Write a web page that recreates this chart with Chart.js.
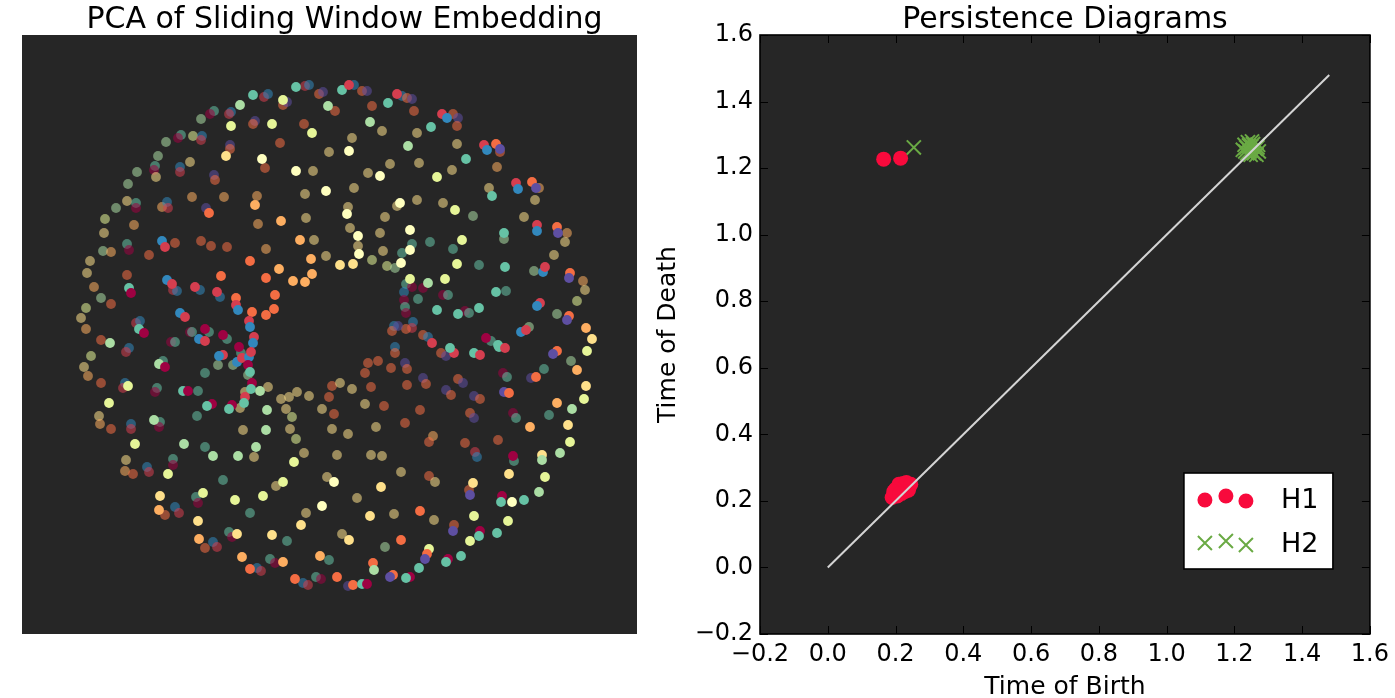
<!DOCTYPE html>
<html><head><meta charset="utf-8">
<script src="https://cdn.jsdelivr.net/npm/chart.js@4.4.1/dist/chart.umd.min.js"></script>
<style>
html,body{margin:0;padding:0;background:#fff;width:1395px;height:698px;overflow:hidden}
canvas{position:absolute;top:0}
#pca{left:0}
#pd{left:640px}
</style></head><body>
<canvas id="pca" width="660" height="698"></canvas>
<canvas id="pd" width="755" height="698"></canvas>
<script>
// ---- PCA of sliding window embedding: [PC1, PC2, time fraction (colormap), depth (PC3, 0 back .. 1 front)]
const pcaPoints = [
[-34,248,.8,1],[-25,249,.1,0],[-21,250,.9,0],[-11,241,.2,0],[-7,243,1,0],[12,245,.8,1],[-2,229,.7,1],[5,224,.2,0],
[-77,240,.8,1],[-66,238,.1,0],[-62,241,.9,0],[-47,235,.6,1],[-47,230,.2,0],[-43,233,1,0],[-90,230,.7,1],
[-99,223,.9,0],[-101,221,.1,0],[-99,209,.6,1],[-116,224,.8,0],[-120,221,0,0],[-129,216,.7,0],[-75,214,1,0],[-77,211,.2,0],
[-58,211,.6,1],[-26,211,.2,0],[-18,202,.6,1],[-137,199,.6,0],[-128,199,.9,0],[-129,195,.1,0],[-149,200,.8,0],[-152,197,0,0],
[-164,193,.7,0],[-100,190,1,0],[-100,186,.2,0],[-104,179,.4,1],[-50,192,.2,0],[-1,183,.4,0],[-172,179,.7,0],[-140,173,.4,0],
[-68,176,.5,1],[-65,167,.2,0],[-175,169,.8,0],[-176,165,0,0],[-174,158,.4,0],[-150,168,.9,0],[-150,163,.1,0],[-193,163,.7,0],
[-116,160,1,0],[-115,155,.2,0],[-34,164,.5,1],[-17,164,.4,0],[-202,151,.7,0],[-4,144,.5,1],[-25,141,.4,0],[-138,138,.3,0],
[-106,138,.3,0],[-73,139,.3,0],[-75,130,.3,1],[-203,134,.4,0],[-194,132,.8,0],[-194,127,0,0],[-168,128,.3,0],[-163,133,.9,0],
[-162,127,.1,0],[-124,127,1,0],[-121,122,.2,1],[-214,127,.7,0],[-225,116,.6,0],[-196,110,.3,0],[-72,111,.3,0],[-49,114,.3,1],
[-24,117,.4,0],[-226,102,.4,0],[-30,95,.3,1],[-16,95,.4,0],[-203,91,.8,0],[-201,85,0,0],[-227,84,.7,0],[-219,83,.3,0],
[-168,94,.9,1],[-165,88,.1,1],[-155,92,.2,0],[-129,94,.2,0],[-119,89,.2,0],[-103,88,.2,0],[-181,80,.2,0],[-64,86,.3,0],
[-80,74,.2,1],[-19,76,.3,1],[-4,79,.4,0],[10,70,.4,1],[-240,74,.4,0],[-243,62,.4,0],[-109,59,.2,1],[-51,66,.3,1],
[-64,57,.2,1],[-37,54,.3,1],[-25,53,.3,1],[-18,61,.3,1],[-203,60,.2,0],[-236,48,.3,0],[-201,47,.8,1],[-199,42,0,1],
[-163,55,.9,1],[-158,51,.1,1],[-157,45,.1,0],[-153,44,.9,0],[-135,48,.1,1],[-130,45,.9,0],[-113,43,.1,1],[-110,38,.9,0],
[-55,40,.2,1],[-94,37,.2,1],[-94,30,.1,1],[-92,25,.9,1],[-229,37,.7,0],[-219,31,.2,0],[-78,23,.2,1],[-64,20,.2,1],
[-56,26,.2,1],[-244,27,.6,0],[-249,17,.4,0],[-150,22,.9,1],[-145,18,.1,1],[-194,12,.1,0],[-190,14,.9,0],[-191,6,.8,1],
[-186,2,0,1],[-81,14,.1,1],[-80,8,.9,1],[-244,6,.3,0],[-229,-5,.2,0],[-220,-8,.7,1],[-140,3,0,0],[-138,3,.8,0],
[-125,6,0,1],[-121,3,.8,0],[-131,-4,.9,1],[-125,-6,.1,1],[-107,0,0,1],[-103,-4,.8,0],[-76,-2,.1,1],[-77,-8,.9,1],
[19,250,.1,1],[24,250,.9,0],[32,244,.2,0],[37,244,1,0],[42,229,.2,0],[58,232,.8,1],[67,241,.1,1],[72,239,.9,0],
[77,237,.2,0],[82,236,1,0],[84,224,.2,0],[40,213,.7,1],[52,204,.4,0],[87,202,.4,0],[101,208,.8,1],[112,221,.1,1],
[117,217,.9,1],[123,221,.2,0],[128,217,1,0],[127,209,.2,0],[22,197,.4,0],[19,184,.5,1],[78,189,.7,1],[127,191,.4,0],
[154,190,.1,1],[157,185,.9,1],[166,191,.2,1],[170,186,1,1],[170,183,.2,0],[136,176,.8,1],[60,171,.4,0],[89,172,.4,0],
[38,162,.4,0],[50,159,.5,1],[107,158,.6,1],[122,165,.4,0],[167,168,.3,0],[24,147,.4,0],[159,147,.4,0],[162,139,.8,1],
[186,152,.1,1],[188,146,.9,1],[202,153,.2,1],[206,147,1,1],[209,147,.3,0],[205,135,.4,0],[18,128,.4,0],[17,121,.5,1],
[70,132,.5,1],[67,129,.4,0],[87,135,.4,0],[113,132,.4,0],[125,125,.6,1],[143,119,.7,0],[55,118,.4,0],[194,118,.4,0],
[20,107,.4,0],[28,99,.5,1],[50,102,.4,0],[80,105,.5,1],[100,93,.8,0],[82,91,.8,0],[132,95,.6,1],[123,86,.8,0],
[174,102,.8,1],[174,96,.7,0],[207,110,.1,1],[207,104,.9,1],[227,108,.2,1],[228,102,1,1],[237,102,.3,0],[235,93,.4,0],
[28,89,.4,0],[29,81,.5,1],[53,84,.4,0],[80,85,.5,1],[72,82,.8,0],[23,71,.4,1],[42,75,.6,0],[57,69,.6,0],
[65,67,.7,0],[71,72,.5,1],[127,71,.6,1],[149,70,.8,0],[175,68,.8,1],[224,80,.4,0],[204,64,.7,0],[213,63,.9,1],
[215,68,.1,1],[240,62,.2,1],[239,57,1,1],[253,54,.3,0],[255,45,.4,0],[247,34,.6,0],[80,56,.6,1],[76,51,.8,0],
[82,48,0,0],[98,52,.7,1],[93,47,0,0],[115,56,.6,1],[74,43,.9,0],[74,35,0,0],[88,36,.8,0],[113,40,0,0],
[118,40,.8,0],[166,43,.8,1],[176,44,.8,0],[75,28,.8,0],[76,22,0,0],[107,25,.8,1],[128,21,.8,1],[135,24,0,0],
[139,22,.8,0],[149,27,.8,1],[210,32,.1,1],[207,29,.9,1],[227,21,.7,0],[239,19,.2,1],[237,15,1,1],[256,7,.3,1],
[262,-4,.4,1],[191,3,.9,1],[196,5,.1,1],[199,8,.7,0],[83,13,.9,0],[82,7,.1,0],[76,6,.2,0],[64,9,.9,0],
[62,4,.2,0],[68,9,1,0],[93,0,.2,0],[98,-2,.9,0],[102,-8,.1,1],[156,-3,0,1],[161,-6,.8,0],[168,-10,.8,1],
[-159,-7,0,0],[-155,-7,.8,0],[-201,-13,.9,0],[-204,-17,.1,0],[-239,-21,.6,0],[-246,-32,.4,0],[-242,-41,.3,0],[-229,-48,.2,0],
[-167,-26,.8,0],[-171,-29,.7,1],[-165,-32,0,1],[-91,-12,0,1],[-89,-18,.8,0],[-107,-20,.1,1],[-111,-21,.9,1],[-93,-27,.9,1],
[-88,-23,.1,1],[-81,-22,.9,1],[-79,-17,.1,1],[-112,-30,.7,0],[-97,-30,.7,0],[-82,-30,0,1],[-80,-37,.8,1],[-82,-40,.7,0],
[-125,-38,.8,0],[-205,-48,.9,0],[-207,-53,.1,0],[-202,-51,.6,1],[-173,-53,.8,0],[-175,-57,0,0],[-147,-56,.8,1],[-142,-56,0,1],
[-132,-56,.8,0],[-78,-48,0,1],[-79,-54,.8,1],[-85,-57,.4,0],[-70,-56,.7,1],[-62,-52,.4,0],[-85,-62,.1,1],[-86,-68,.8,1],
[-90,-73,.4,0],[-118,-69,0,1],[-123,-71,.8,1],[-98,-70,0,1],[-101,-74,.8,1],[-49,-64,.4,0],[-41,-62,.4,0],[-33,-57,.4,0],
[-21,-61,.4,0],[2,-51,.2,0],[10,-48,.4,0],[-1,-62,.2,0],[-221,-68,.6,1],[-133,-81,.8,0],[-63,-75,.7,1],[-44,-74,.4,0],
[-38,-82,.6,0],[-8,-74,.4,0],[4,-79,.2,0],[-231,-81,.4,0],[-230,-89,.3,0],[-219,-94,.2,0],[-199,-89,.9,0],[-199,-94,.1,0],
[-176,-85,.7,1],[-170,-87,.8,0],[-171,-92,0,0],[-87,-95,.4,0],[-64,-95,.7,1],[-40,-94,.4,0],[-34,-104,.6,0],[2,-94,.4,0],
[-195,-109,.6,1],[-146,-109,.7,1],[-125,-112,.8,0],[-74,-112,.7,1],[-117,-121,.7,1],[-92,-121,.7,1],[-76,-122,.4,0],[-26,-118,.4,0],
[-36,-127,.6,1],[7,-120,.4,0],[-204,-125,.4,0],[-205,-136,.3,0],[-197,-139,.2,0],[-183,-132,.9,0],[-181,-137,.1,0],[-157,-124,.8,0],
[-157,-130,0,0],[-162,-139,.6,1],[-107,-145,.8,0],[-47,-147,.6,1],[-54,-151,.4,0],[-3,-142,.4,0],[4,-147,.5,1],[-170,-161,.4,1],
[-134,-162,.8,0],[-127,-158,.6,1],[-132,-168,0,0],[-95,-165,.6,1],[-67,-161,.6,1],[-8,-171,.5,1],[-171,-175,.3,1],[-165,-180,.2,0],
[-155,-172,.9,0],[-151,-178,.1,0],[-80,-178,.8,0],[-24,-178,.4,0],[-132,-186,.4,1],[-29,-190,.4,1],[12,-199,.4,0],[-101,-197,.8,0],
[-98,-202,0,0],[-93,-199,.4,1],[-58,-200,.4,1],[-43,-206,.8,0],[-131,-204,.3,1],[-125,-213,.2,0],[-117,-207,.9,0],[-113,-212,.1,0],
[-88,-222,.3,1],[-60,-224,.8,0],[-55,-228,0,0],[-47,-227,.3,1],[-10,-221,.3,1],[-1,-225,.8,0],[-80,-234,.2,1],[-73,-233,.9,0],
[-69,-236,.1,0],[-35,-244,.2,1],[-27,-248,.9,0],[-22,-250,.1,0],[-14,-242,.8,0],[-9,-244,0,0],[7,-242,.2,1],
[65,-12,.9,0],[65,-18,.2,0],[38,-28,.2,0],[48,-26,.2,0],[35,-38,.2,0],[61,-33,.2,0],[75,-28,1,0],[77,-34,.2,0],
[111,-18,.2,0],[116,-21,1,0],[124,-18,.1,1],[120,-13,.8,1],[144,-18,.8,1],[150,-20,.1,1],[169,-12,.8,1],[175,-13,.1,1],
[227,-16,.2,1],[223,-19,1,1],[257,-16,.6,1],[241,-26,.7,0],[247,-35,.3,1],[214,-34,.8,0],[173,-38,0,0],[177,-42,.8,0],
[201,-43,1,0],[206,-42,.2,1],[22,-54,.4,0],[41,-52,.2,0],[77,-50,.2,0],[93,-43,1,0],[96,-49,.2,0],[128,-44,.2,0],
[133,-48,1,0],[116,-55,1,0],[121,-60,.2,0],[144,-61,1,0],[150,-64,.2,0],[174,-57,1,1],[179,-58,.2,1],[256,-51,.4,1],
[254,-64,.6,1],[227,-68,.3,1],[242,-74,.7,1],[219,-80,.8,0],[183,-78,0,0],[186,-83,.8,0],[35,-69,.4,0],[54,-71,.2,0],
[90,-75,.2,0],[75,-88,.2,0],[140,-78,.2,0],[144,-83,1,0],[200,-92,.3,1],[238,-90,.4,1],[240,-107,.6,1],[230,-118,.7,1],
[18,-99,.4,0],[46,-92,.4,0],[103,-101,.3,0],[99,-107,.2,0],[135,-108,.2,0],[168,-105,.2,0],[41,-120,.4,0],[52,-121,.4,0],
[145,-117,.1,0],[147,-122,.9,0],[183,-121,0,1],[184,-126,.8,0],[212,-120,.4,1],[212,-125,.7,1],[215,-142,.6,1],[209,-157,.7,1],
[71,-137,.4,0],[99,-141,.2,0],[105,-147,.4,0],[143,-148,.4,1],[139,-155,.2,0],[140,-160,1,1],[179,-139,.4,1],[51,-152,.4,1],
[27,-163,.4,0],[172,-161,0,1],[171,-167,.8,1],[182,-167,.5,1],[194,-165,.8,1],[40,-181,.4,1],[64,-179,.4,0],[90,-176,.2,1],
[104,-185,.4,0],[144,-181,.6,1],[178,-186,.6,1],[124,-190,.2,0],[123,-196,1,1],[150,-196,0,1],[149,-201,.8,1],[140,-206,.6,1],
[167,-198,.8,1],[19,-205,.4,1],[71,-205,.2,1],[55,-212,.7,0],[99,-214,.6,1],[97,-219,.2,1],[95,-224,1,1],[118,-224,0,1],
[116,-227,.8,1],[131,-221,.8,1],[43,-228,.2,1],[44,-235,.7,1],[89,-233,.8,1],[63,-240,.2,1],[60,-242,1,1],[80,-242,0,1],
[76,-243,.8,1],[18,-251,1,0],[23,-250,.2,1],[32,-249,.8,1],[37,-249,0,1]
];
const pcaRangeX = [-308, 307];
const pcaRangeY = [-299, 300];

// ---- Persistence diagrams
const h1Birth = [0.165,0.215,0.190,0.195,0.200,0.205,0.210,0.215,0.220,0.225,0.230,0.235,0.240,0.238,0.228,0.218,0.210,0.222,0.232,0.200,0.195,0.245,0.212];
const h1Death = [1.227,1.230,0.210,0.218,0.225,0.215,0.230,0.240,0.235,0.245,0.250,0.245,0.240,0.232,0.228,0.222,0.250,0.252,0.255,0.235,0.228,0.250,0.222];
const h2Birth = [0.254,1.225,1.230,1.235,1.240,1.245,1.250,1.255,1.258,1.262,1.268,1.272,1.265,1.248,1.238,1.252,1.232,1.270,1.243];
const h2Death = [1.262,1.255,1.270,1.262,1.278,1.250,1.265,1.272,1.245,1.258,1.262,1.250,1.240,1.240,1.245,1.280,1.250,1.270,1.268];
const diagonal = [0, 1.48];
const axisMin = -0.2, axisMax = 1.6, axisStep = 0.2;
const seriesNames = ['H1', 'H2'];

const spectral = ['#9e0142','#d53e4f','#f46d43','#fdae61','#fee08b','#ffffbf','#e6f598','#abdda4','#66c2a5','#3288bd','#5e4fa2'];
function hexRgb(h){return [parseInt(h.slice(1,3),16),parseInt(h.slice(3,5),16),parseInt(h.slice(5,7),16)];}
function spectralColor(t, depth){
  const p = Math.max(0, Math.min(1, t)) * (spectral.length - 1);
  const i = Math.min(Math.floor(p), spectral.length - 2), f = p - i;
  const a = hexRgb(spectral[i]), b = hexRgb(spectral[i+1]);
  const c = a.map((v,k)=>Math.round(v + (b[k]-v)*f));
  const alpha = 0.55 + 0.45*depth;
  return `rgba(${c[0]},${c[1]},${c[2]},${alpha})`;
}

Chart.defaults.font.family = "'DejaVu Sans', sans-serif";
Chart.defaults.color = '#000';
const BG = '#262626';

const bgPlugin = {
  id: 'plotBg',
  beforeDraw(chart){
    const {ctx, chartArea:a} = chart;
    ctx.save(); ctx.fillStyle = BG; ctx.fillRect(a.left, a.top, a.right-a.left, a.bottom-a.top); ctx.restore();
  }
};
function titlePlugin(text, dx){
  return { id:'ttl', afterDraw(chart){
    const {ctx, chartArea:a} = chart;
    ctx.save(); ctx.fillStyle='#000'; ctx.font="30px 'DejaVu Sans'"; ctx.textAlign='center'; ctx.textBaseline='alphabetic';
    ctx.fillText(text, (a.left+a.right)/2 + dx, 28); ctx.restore();
  }};
}

// ---------- left chart
const sorted = pcaPoints.slice().sort((p,q)=>p[3]-q[3]);
new Chart(document.getElementById('pca'), {
  type: 'scatter',
  data: { datasets: [{
    data: sorted.map(p=>({x:p[0], y:p[1]})),
    backgroundColor: sorted.map(p=>spectralColor(p[2], p[3])),
    borderWidth: 0, pointRadius: 4.9, pointHoverRadius: 4.9
  }]},
  options: {
    responsive:false, animation:false, events:[],
    layout:{ padding:{left:22, top:35, right:23, bottom:64}, autoPadding:false },
    plugins:{ legend:{display:false}, tooltip:{enabled:false} },
    scales:{
      x:{ display:false, min:pcaRangeX[0], max:pcaRangeX[1] },
      y:{ display:false, min:pcaRangeY[0], max:pcaRangeY[1] }
    }
  },
  plugins:[bgPlugin, titlePlugin('PCA of Sliding Window Embedding', 15)]
});

// ---------- right chart
const RED = '#f80a3c', GREEN = '#6aaa44';
const fmt = v => { const s = (Math.abs(v)<1e-9?0:v).toFixed(1); return s.replace('-', '\u2212'); };

const framePlugin = {
  id:'frame',
  afterDatasetsDraw(chart){
    const {ctx, chartArea:a, scales} = chart;
    ctx.save();
    ctx.strokeStyle='#000'; ctx.lineWidth=1;
    const L=8;
    scales.x.ticks.forEach(t=>{
      const x = Math.round(scales.x.getPixelForValue(t.value))+0.5;
      ctx.beginPath(); ctx.moveTo(x,a.bottom); ctx.lineTo(x,a.bottom-L); ctx.moveTo(x,a.top); ctx.lineTo(x,a.top+L); ctx.stroke();
    });
    scales.y.ticks.forEach(t=>{
      const y = Math.round(scales.y.getPixelForValue(t.value))+0.5;
      ctx.beginPath(); ctx.moveTo(a.left,y); ctx.lineTo(a.left+L,y); ctx.moveTo(a.right,y); ctx.lineTo(a.right-L,y); ctx.stroke();
    });
    ctx.lineWidth=1.6;
    ctx.strokeRect(a.left, a.top, a.right-a.left, a.bottom-a.top);
    ctx.restore();
  },
  afterDraw(chart){
    const {ctx, chartArea:a} = chart;
    ctx.save(); ctx.fillStyle='#000'; ctx.font="25px 'DejaVu Sans'";
    ctx.textAlign='center'; ctx.textBaseline='alphabetic';
    ctx.fillText('Time of Birth', (a.left+a.right)/2, 694);
    ctx.translate(28, (a.top+a.bottom)/2); ctx.rotate(-Math.PI/2);
    ctx.textBaseline='middle'; ctx.fillText('Time of Death', 0, 0);
    ctx.restore();
    // legend
    const bx = a.right-186, by = a.bottom-161, bw = 149, bh = 96;
    ctx.save();
    ctx.fillStyle='#fff'; ctx.fillRect(bx,by,bw,bh);
    ctx.strokeStyle='#000'; ctx.lineWidth=1.6; ctx.strokeRect(bx,by,bw,bh);
    const mx=[21,42,62], my1=[27,23,28], my2=[70,68,72];
    ctx.fillStyle=RED;
    mx.forEach((x,i)=>{ ctx.beginPath(); ctx.arc(bx+x, by+my1[i], 7.5, 0, Math.PI*2); ctx.fill(); });
    ctx.strokeStyle=GREEN; ctx.lineWidth=2;
    mx.forEach((x,i)=>{ const cx=bx+x, cy=by+my2[i], r=7; ctx.beginPath(); ctx.moveTo(cx-r,cy-r); ctx.lineTo(cx+r,cy+r); ctx.moveTo(cx-r,cy+r); ctx.lineTo(cx+r,cy-r); ctx.stroke(); });
    ctx.fillStyle='#000'; ctx.font="27px 'DejaVu Sans'"; ctx.textAlign='left'; ctx.textBaseline='alphabetic';
    ctx.fillText(seriesNames[0], bx+97, by+35);
    ctx.fillText(seriesNames[1], bx+97, by+79);
    ctx.restore();
  }
};

new Chart(document.getElementById('pd'), {
  type: 'scatter',
  data: { datasets: [
    { type:'line', data: diagonal.map(v=>({x:v, y:v})), borderColor:'#d4d4d4', borderWidth:2, pointRadius:0, fill:false, order:0 },
    { label: seriesNames[0], data: h1Birth.map((b,i)=>({x:b, y:h1Death[i]})), pointStyle:'circle', pointRadius:7.5, pointHoverRadius:7.5,
      backgroundColor: RED, borderWidth:0, order:2 },
    { label: seriesNames[1], data: h2Birth.map((b,i)=>({x:b, y:h2Death[i]})), pointStyle:'crossRot', pointRadius:10, pointHoverRadius:10,
      borderColor: GREEN, backgroundColor: GREEN, borderWidth:2, order:1 }
  ]},
  options: {
    responsive:false, animation:false, events:[],
    layout:{ padding:{left:0, top:35, right:18, bottom:0}, autoPadding:false },
    plugins:{ legend:{display:false}, tooltip:{enabled:false} },
    scales:{
      x:{ type:'linear', min:axisMin, max:axisMax,
          grid:{display:false, drawTicks:false}, border:{display:false},
          ticks:{ stepSize:axisStep, font:{size:24}, color:'#000', padding:6, maxRotation:0, autoSkip:false, callback: fmt },
          afterFit(s){ s.height = 64; } },
      y:{ type:'linear', min:axisMin, max:axisMax,
          grid:{display:false, drawTicks:false}, border:{display:false},
          ticks:{ stepSize:axisStep, font:{size:24}, color:'#000', padding:7, autoSkip:false, callback: fmt },
          afterFit(s){ s.width = 120; } }
    }
  },
  plugins:[bgPlugin, framePlugin, titlePlugin('Persistence Diagrams', 0)]
});
</script>
</body></html>
